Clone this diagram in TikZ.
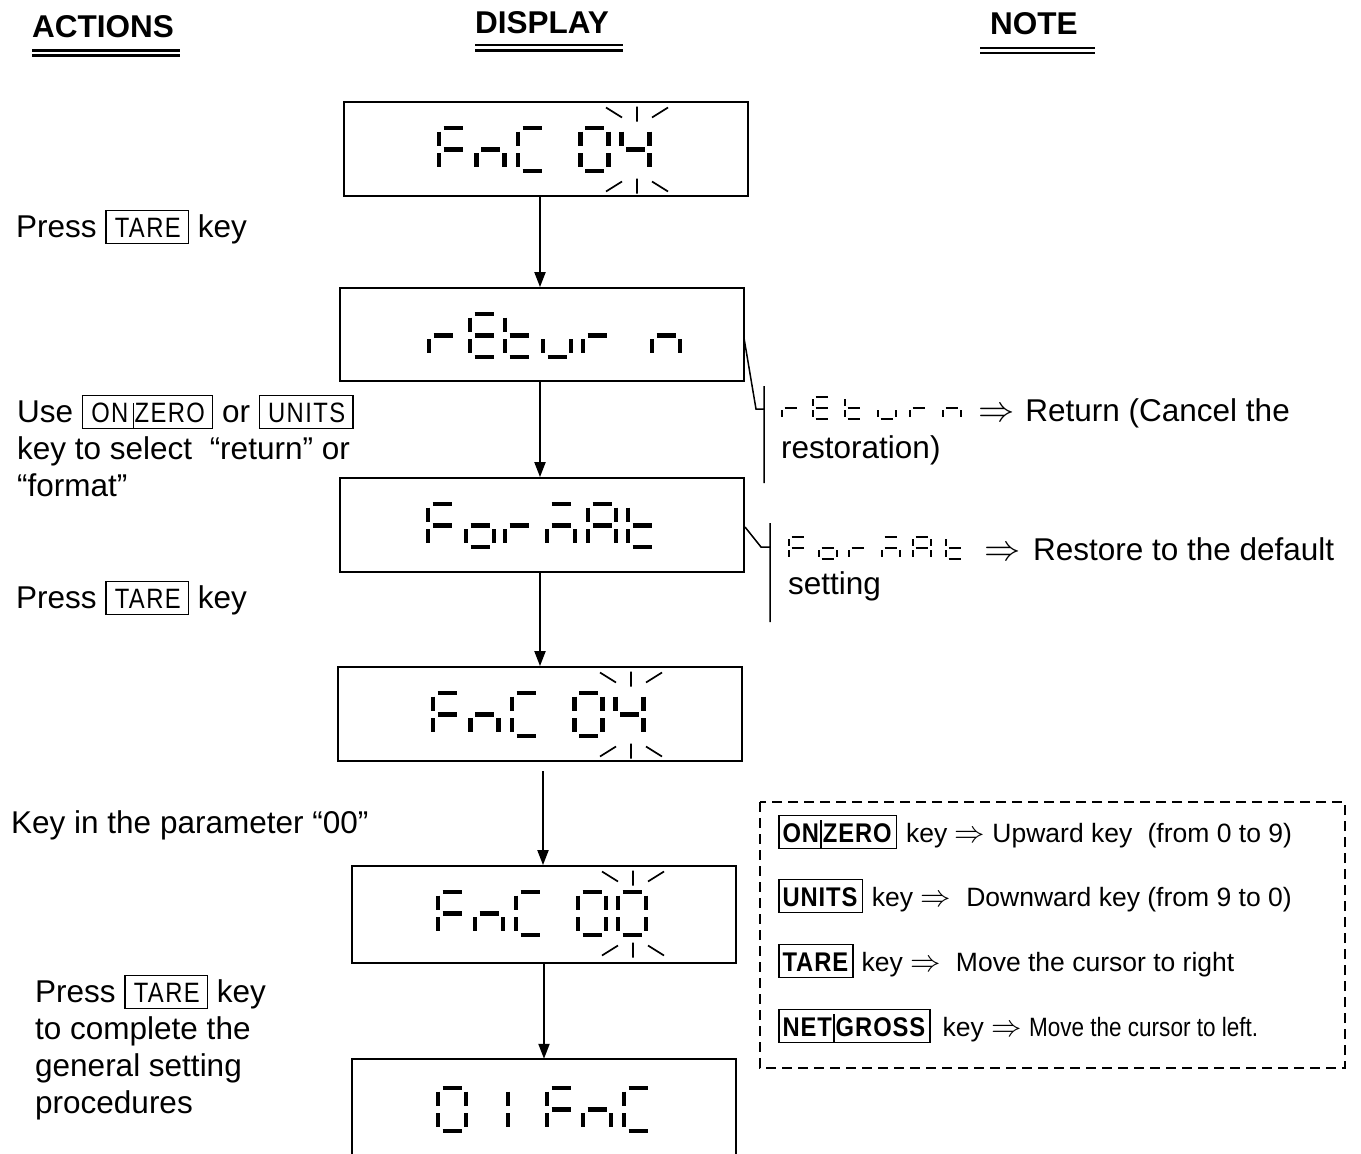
\RequirePackage{fix-cm}
\documentclass[tikz,border=0pt]{standalone}
\usepackage{fontspec}
\usepackage{graphicx}
\setmainfont{Liberation Sans}
\newfontfamily\keyfontL[LetterSpace=6]{Liberation Sans}
\newfontfamily\keyfontB[LetterSpace=4]{Liberation Sans}
\usetikzlibrary{arrows.meta}

% seven-segment parts, parameterised by \sw (width), \sh (height), \sgh, \sgv (gaps)
\def\SegPa{\draw[segcur] ({\sgh},0)--({\sw-\sgh},0);}
\def\SegPb{\draw[segcur] (\sw,{\sgv})--(\sw,{\sh/2-\sgv});}
\def\SegPc{\draw[segcur] (\sw,{\sh/2+\sgv})--(\sw,{\sh-\sgv});}
\def\SegPd{\draw[segcur] ({\sgh},\sh)--({\sw-\sgh},\sh);}
\def\SegPe{\draw[segcur] (0,{\sh/2+\sgv})--(0,{\sh-\sgv});}
\def\SegPf{\draw[segcur] (0,{\sgv})--(0,{\sh/2-\sgv});}
\def\SegPg{\draw[segcur] ({\sgh},{\sh/2})--({\sw-\sgh},{\sh/2});}
\newcommand\sdig[3]{\begin{scope}[shift={(#1,#2)},segcur/.style={segline}]
 \def\sw{28}\def\sh{43}\def\sgh{4.5}\def\sgv{3.6}%
 \foreach \q in {#3}{\csname SegP\q\endcsname}\end{scope}}
\newcommand\sdigs[3]{\begin{scope}[shift={(#1,#2)},segcur/.style={segsmall}]
 \def\sw{18}\def\sh{22}\def\sgh{2.6}\def\sgv{2}%
 \foreach \q in {#3}{\csname SegP\q\endcsname}\end{scope}}
\newcommand\blink[2]{\begin{scope}[shift={(#1,#2)}]
 \draw[blinkline] (-31,-42)--(-15,-32) (0,-43)--(0,-28) (15,-32)--(31,-42)
   (-31,42)--(-15,32) (0,29)--(0,44) (15,32)--(31,42);\end{scope}}

\newcommand\rarr{\scalebox{1.15}{$\Rightarrow$}}
\newcommand\lkey[1]{{\setlength\fboxsep{0pt}\setlength\fboxrule{1.3pt}\fbox{\hspace{8pt}\rule[-6pt]{0pt}{32pt}\scalebox{0.85}[1]{\keyfontL\fontsize{28}{30}\selectfont #1}\hspace{7pt}}}}
\newcommand\lbar{\hspace{5pt}\rule[-6pt]{1.3pt}{25pt}\hspace{1pt}}
\newcommand\nkey[1]{{\setlength\fboxsep{0pt}\setlength\fboxrule{1.3pt}\fbox{\hspace{3pt}\rule[-6pt]{0pt}{32pt}\scalebox{0.88}[1]{\keyfontB\bfseries\fontsize{27}{30}\selectfont #1}\hspace{4pt}}}}
\newcommand\nbar{\hspace{1.5pt}\rule[-6pt]{1.8pt}{28pt}\hspace{1pt}}

\tikzset{
 dispbox/.style={draw, line width=1.8pt, inner sep=0pt},
 nobox/.style={inner sep=0pt},
 arr/.style={line width=2pt, -{Triangle[length=15pt,width=11pt]}},
 segline/.style={line width=4.2pt, line cap=butt},
 segsmall/.style={line width=2.7pt, line cap=butt},
 blinkline/.style={line width=1.7pt},
 bracket/.style={line width=1.5pt},
 uline/.style={line width=2.8pt},
 hdr/.style={inner sep=0pt, anchor=base west, font=\bfseries\fontsize{31.5}{36}\selectfont},
 txt/.style={inner sep=0pt, anchor=base west, font=\fontsize{31.5}{37}\selectfont},
 ntxt/.style={inner sep=0pt, anchor=base west, font=\fontsize{26.5}{30}\selectfont},
 dashbox/.style={draw, line width=2.3pt, dash pattern=on 10pt off 6pt},
}

\begin{document}
\begin{tikzpicture}[x=1pt,y=-1pt]
\useasboundingbox (0,0) rectangle (1361,1154);
\fill[white] (0,0) rectangle (1361,1154);

% headers
\node[hdr] (h1) at (32,37) {ACTIONS};
\node[hdr] (h2) at (475,33) {DISPLAY};
\node[hdr] (h3) at (990,34) {NOTE};
\draw[uline] (32,50.5)--(180,50.5) (32,55.5)--(180,55.5);
\draw[uline] (475,45)--(623,45) (475,50.5)--(623,50.5);
\draw[uline] (980,48)--(1095,48) (980,53)--(1095,53);

% display boxes
\node[dispbox, minimum width=404pt, minimum height=94pt] (b1) at (546,149) {};
\node[dispbox, minimum width=404pt, minimum height=93pt] (b2) at (542,334.5) {};
\node[dispbox, minimum width=404pt, minimum height=94pt] (b3) at (542,525) {};
\node[dispbox, minimum width=404pt, minimum height=94pt] (b4) at (540,714) {};
\node[dispbox, minimum width=384pt, minimum height=97pt] (b5) at (544,914.5) {};
\node[nobox, minimum width=384pt, minimum height=95pt] (b6) at (544,1106.5) {};
\draw[line width=1.8pt] (b6.south west) -- (b6.north west) -- (b6.north east) -- (b6.south east);

% box 1: FnC 04
\sdig{439}{128}{a,e,f,g}
\sdig{476.5}{128}{c,e,g}
\sdig{518}{128}{a,d,e,f}
\sdig{580.5}{128}{a,b,c,d,e,f}
\sdig{621.5}{128}{b,c,f,g}
\blink{637}{149.5}

% box 2: rEturn
\sdig{429}{314}{e,g}
\sdig{470}{314}{a,d,e,f,g}
\sdig{505}{314}{d,e,f,g}
\sdig{543}{314}{c,d,e}
\sdig{583}{314}{e,g}
\sdig{652}{314}{c,e,g}

% box 3: ForMAt
\sdig{428}{504}{a,e,f,g}
\sdig{466}{504}{c,d,e,g}
\sdig{505}{504}{e,g}
\sdig{547}{504}{a,c,e,g}
\sdig{588}{504}{a,b,c,e,f,g}
\sdig{628}{504}{d,e,f,g}

% box 4: FnC 04
\sdig{433}{693}{a,e,f,g}
\sdig{470.5}{693}{c,e,g}
\sdig{512}{693}{a,d,e,f}
\sdig{574.5}{693}{a,b,c,d,e,f}
\sdig{615.5}{693}{b,c,f,g}
\blink{631}{714.5}

% box 5: FnC 00
\sdig{438}{892}{a,e,f,g}
\sdig{475}{892}{c,e,g}
\sdig{516}{892}{a,d,e,f}
\sdig{578}{892}{a,b,c,d,e,f}
\sdig{618}{892}{a,b,c,d,e,f}
\blink{633}{913.5}

% box 6: 01FnC
\sdig{438}{1088}{a,b,c,d,e,f}
\sdig{508}{1088}{e,f}
\sdig{547}{1088}{a,e,f,g}
\sdig{583}{1088}{c,e,g}
\sdig{624}{1088}{a,d,e,f}

% arrows
\coordinate (ax) at (540,0);
\draw[arr] (b1.south -| ax) -- (b2.north -| ax);
\draw[arr] (b2.south -| ax) -- (b3.north -| ax);
\draw[arr] (b3.south -| ax) -- (b4.north -| ax);
\coordinate (s4) at (543,771);
\draw[arr] (s4) -- (s4 |- b5.north);
\draw[arr] (b5.south) -- (b6.north);

% action texts
\node[txt] (a1) at (16,237) {Press \lkey{TARE} key};
\node[txt] (a2) at (17,422) {Use \lkey{ON\lbar ZERO} or \lkey{UNITS}};
\node[txt] (a3) at (17,459) {key to select\ \ “return” or};
\node[txt] (a4) at (17,496) {“format”};
\node[txt] (a5) at (16,608) {Press \lkey{TARE} key};
\node[txt] (a6) at (11,833) {Key in the parameter “00”};
\node[txt] (a7) at (35,1002) {Press \lkey{TARE} key};
\node[txt] (a8) at (35,1039) {to complete the};
\node[txt] (a9) at (35,1076) {general setting};
\node[txt] (a10) at (35,1113) {procedures};

% note brackets
\coordinate (q1) at (744,338);
\coordinate (q2) at (756,409);
\coordinate (q3) at (764,409);
\coordinate (q4) at (764,386);
\coordinate (q5) at (764,483);
\draw[bracket] (q1) -- (q2) -- (q3) (q4) -- (q5);
\coordinate (p1) at (745,527);
\coordinate (p2) at (761,547);
\coordinate (p3) at (770,547);
\coordinate (p4) at (770,523);
\coordinate (p5) at (770,622);
\draw[bracket] (p1) -- (p2) -- (p3) (p4) -- (p5);

% small rEturn
\sdigs{782}{397}{e,g}
\sdigs{813}{397}{a,d,e,f,g}
\sdigs{845}{397}{d,e,f,g}
\sdigs{878}{397}{c,d,e}
\sdigs{910}{397}{e,g}
\sdigs{943}{397}{c,e,g}
\node[txt] (r1) at (978,421) {\rarr\hspace{0.35em}Return (Cancel the};
\node[txt] (r2) at (781,458) {restoration)};

% small ForMAt
\sdigs{789}{537}{a,e,f,g}
\sdigs{819}{537}{c,d,e,g}
\sdigs{849}{537}{e,g}
\sdigs{882}{537}{a,c,e,g}
\sdigs{913}{537}{a,b,c,e,f,g}
\sdigs{946}{537}{d,e,f,g}
\node[txt] (f1) at (984,560) {\rarr\hspace{0.4em}Restore to the default};
\node[txt] (f2) at (788,594) {setting};

% dashed note box
\draw[dashbox] (760,802) rectangle (1345,1068);
\node[ntxt] (n1) at (778,842) {\nkey{ON\nbar ZERO}\hspace{9pt}key \rarr\ Upward key\hspace{0.3em} (from 0 to 9)};
\node[ntxt] (n2) at (778,906) {\nkey{UNITS}\hspace{9pt}key \rarr\hspace{0.3em}\ Downward key (from 9 to 0)};
\node[ntxt] (n3) at (778,971) {\nkey{TARE}\hspace{8pt}key \rarr\hspace{0.3em}\ Move the cursor to right};
\node[ntxt] (n4) at (778,1036) {\nkey{NET\nbar GROSS}\hspace{12pt}key \rarr\ \scalebox{0.85}[1]{Move the cursor to left.}};
\end{tikzpicture}
\end{document}
